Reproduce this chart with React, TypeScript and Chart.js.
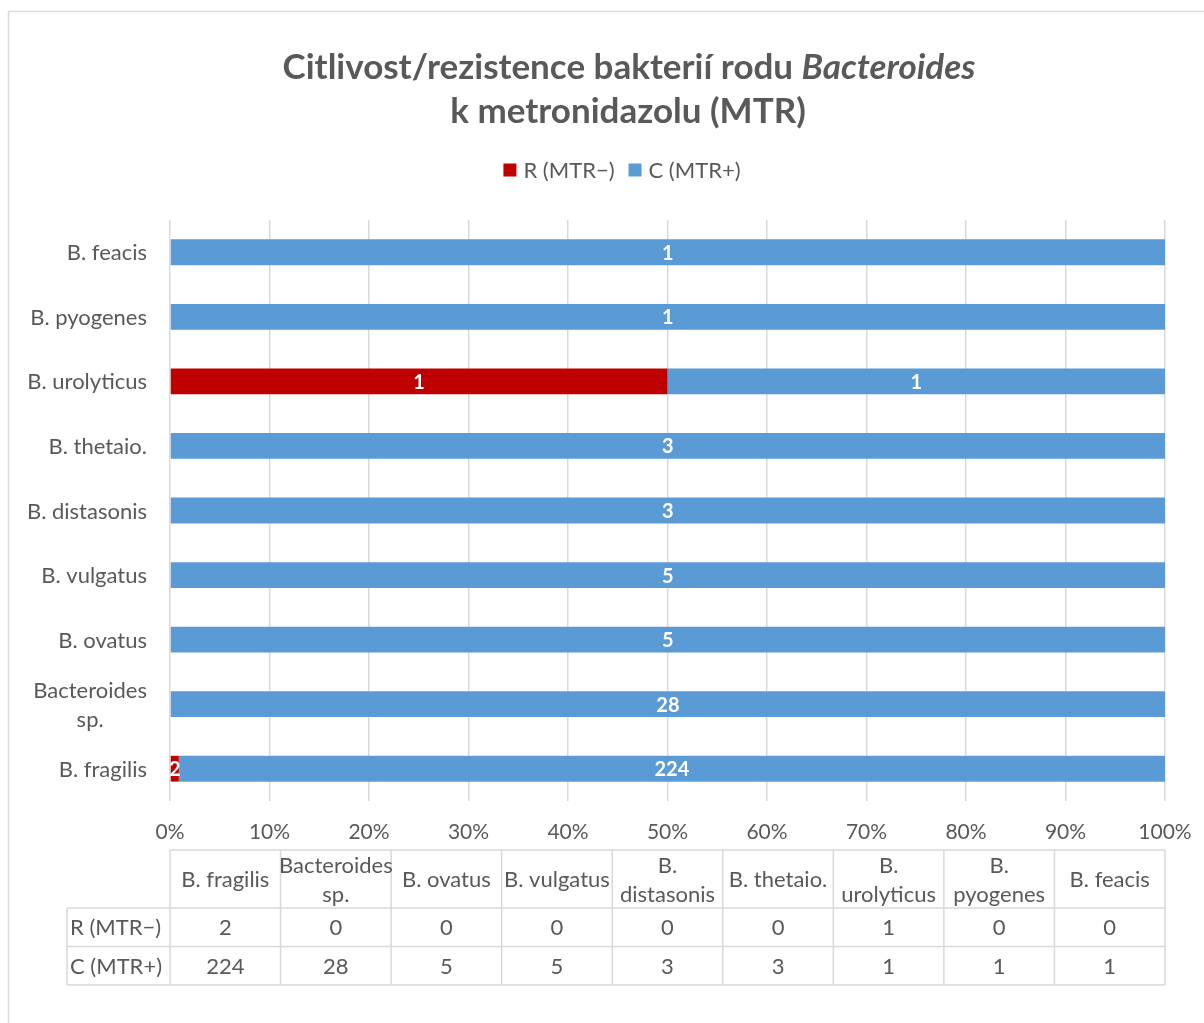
import React, { useEffect, useRef } from "react";
import { Chart, registerables } from "chart.js";

Chart.register(...registerables);

// ---------- data ----------
const categories = [
  "B. fragilis",
  "Bacteroides sp.",
  "B. ovatus",
  "B. vulgatus",
  "B. distasonis",
  "B. thetaio.",
  "B. urolyticus",
  "B. pyogenes",
  "B. feacis",
];
const axisLabelLines = [
  ["B. fragilis"],
  ["Bacteroides", "sp."],
  ["B. ovatus"],
  ["B. vulgatus"],
  ["B. distasonis"],
  ["B. thetaio."],
  ["B. urolyticus"],
  ["B. pyogenes"],
  ["B. feacis"],
];
const tableHeaderLines = [
  ["B. fragilis"],
  ["Bacteroides", "sp."],
  ["B. ovatus"],
  ["B. vulgatus"],
  ["B.", "distasonis"],
  ["B. thetaio."],
  ["B.", "urolyticus"],
  ["B.", "pyogenes"],
  ["B. feacis"],
];
const seriesNames = ["R (MTR−)", "C (MTR+)"];
const resistant = [2, 0, 0, 0, 0, 0, 1, 0, 0];
const susceptible = [224, 28, 5, 5, 3, 3, 1, 1, 1];
const seriesColors = ["#C00000", "#5B9BD5"];
const titleLine1 = "Citlivost/rezistence bakterií rodu ";
const titleItalic = "Bacteroides";
const titleLine2 = "k metronidazolu (MTR)";

const FONT = "Lato, 'Open Sans', sans-serif";
const TEXT = "#595959";
const GRID = "#D9D9D9";
const LABEL_SIZE = 22;
const TITLE_SIZE = 35;

const counts = [resistant, susceptible];
const totals = categories.map((_, i) => resistant[i] + susceptible[i]);
const pct = (arr: number[]) => arr.map((v, i) => (totals[i] ? (v / totals[i]) * 100 : 0));

const overlayPlugin = {
  id: "overlay",
  beforeDraw(chart: any) {
    const ctx = chart.ctx;
    ctx.save();
    ctx.fillStyle = "#FFFFFF";
    ctx.fillRect(0, 0, chart.width, chart.height);
    ctx.strokeStyle = GRID;
    ctx.lineWidth = 1.5;
    ctx.strokeRect(8.5, 11.5, chart.width + 20, chart.height + 20);
    ctx.restore();
  },
  afterDatasetsDraw(chart: any) {
    const ctx = chart.ctx;
    ctx.save();
    ctx.font = `bold 20px ${FONT}`;
    ctx.fillStyle = "#FFFFFF";
    ctx.textAlign = "center";
    ctx.textBaseline = "middle";
    counts.forEach((arr, di) => {
      const meta = chart.getDatasetMeta(di);
      meta.data.forEach((el: any, i: number) => {
        const v = arr[i];
        if (!v) return;
        const p = el.getCenterPoint();
        ctx.fillText(String(v), p.x, p.y + 1);
      });
    });
    ctx.restore();
  },
  afterDraw(chart: any) {
    const ctx = chart.ctx;
    const xs = chart.scales.x;
    const ys = chart.scales.y;
    ctx.save();

    // Title
    const cx = 629;
    ctx.fillStyle = TEXT;
    ctx.textBaseline = "middle";
    ctx.font = `bold ${TITLE_SIZE}px ${FONT}`;
    const w1 = ctx.measureText(titleLine1).width;
    ctx.font = `italic bold ${TITLE_SIZE}px ${FONT}`;
    const w2 = ctx.measureText(titleItalic).width;
    const sx = cx - (w1 + w2) / 2;
    ctx.textAlign = "left";
    ctx.font = `bold ${TITLE_SIZE}px ${FONT}`;
    ctx.fillText(titleLine1, sx, 68);
    ctx.font = `italic bold ${TITLE_SIZE}px ${FONT}`;
    ctx.fillText(titleItalic, sx + w1, 68);
    ctx.font = `bold ${TITLE_SIZE}px ${FONT}`;
    ctx.textAlign = "center";
    ctx.fillText(titleLine2, 628, 112);

    // Legend
    ctx.font = `${LABEL_SIZE}px ${FONT}`;
    ctx.textAlign = "left";
    const box = 13;
    const gapBox = 7;
    const gapItem = 14;
    const widths = seriesNames.map((n) => box + gapBox + ctx.measureText(n).width);
    const total = widths.reduce((a, b) => a + b, 0) + gapItem;
    let lx = 622 - total / 2;
    seriesNames.forEach((n, i) => {
      ctx.fillStyle = seriesColors[i];
      ctx.fillRect(lx, 170 - box / 2, box, box);
      ctx.fillStyle = TEXT;
      ctx.fillText(n, lx + box + gapBox, 171);
      lx += widths[i] + gapItem;
    });

    // Y axis labels
    ctx.font = `${LABEL_SIZE}px ${FONT}`;
    ctx.fillStyle = TEXT;
    ctx.textAlign = "center";
    const lh = 29;
    axisLabelLines.forEach((lines, i) => {
      const y = ys.getPixelForValue(i);
      const bw = Math.max(...lines.map((l) => ctx.measureText(l).width));
      const right = xs.left - 23;
      const mid = right - bw / 2;
      lines.forEach((l, k) => {
        ctx.fillText(l, mid, y + (k - (lines.length - 1) / 2) * lh + 1);
      });
    });

    // Data table
    const n = categories.length;
    const left = xs.left;
    const right = xs.right;
    const cw = (right - left) / n;
    const top = 850;
    const hRow = 58;
    const r1 = top + hRow;
    const r2 = r1 + 38.5;
    const r3 = r2 + 38.5;
    const tLeft = 67;
    ctx.strokeStyle = GRID;
    ctx.lineWidth = 1.5;
    ctx.beginPath();
    ctx.moveTo(left, top);
    ctx.lineTo(right, top);
    [r1, r2, r3].forEach((y) => {
      ctx.moveTo(tLeft, y);
      ctx.lineTo(right, y);
    });
    for (let k = 0; k <= n; k++) {
      const x = left + k * cw;
      ctx.moveTo(x, top);
      ctx.lineTo(x, r3);
    }
    ctx.moveTo(tLeft, r1);
    ctx.lineTo(tLeft, r3);
    ctx.stroke();

    ctx.fillStyle = TEXT;
    ctx.font = `${LABEL_SIZE}px ${FONT}`;
    ctx.textAlign = "center";
    ctx.textBaseline = "middle";
    tableHeaderLines.forEach((lines, i) => {
      const x = left + (i + 0.5) * cw;
      const ym = (top + r1) / 2;
      lines.forEach((l, k) => {
        ctx.fillText(l, x, ym + (k - (lines.length - 1) / 2) * lh + 1);
      });
    });
    [r1, r2].forEach((ry, di) => {
      const ym = ry + 38.5 / 2 + 1;
      ctx.textAlign = "left";
      ctx.fillText(seriesNames[di], tLeft + 3, ym);
      ctx.textAlign = "center";
      counts[di].forEach((v, i) => {
        ctx.fillText(String(v), left + (i + 0.5) * cw, ym);
      });
    });

    ctx.restore();
  },
};

export default function App() {
  const ref = useRef<HTMLCanvasElement | null>(null);
  useEffect(() => {
    if (!ref.current) return;
    const chart = new Chart(ref.current, {
      type: "bar",
      data: {
        labels: categories,
        datasets: [
          {
            label: seriesNames[0],
            data: pct(resistant),
            backgroundColor: seriesColors[0],
            borderWidth: 0,
            categoryPercentage: 0.8,
            barPercentage: 0.5,
          },
          {
            label: seriesNames[1],
            data: pct(susceptible),
            backgroundColor: seriesColors[1],
            borderWidth: 0,
            categoryPercentage: 0.8,
            barPercentage: 0.5,
          },
        ],
      },
      options: {
        indexAxis: "y",
        responsive: false,
        animation: false,
        layout: { padding: { top: 220, right: 39, left: 0, bottom: 0 } },
        plugins: {
          legend: { display: false },
          title: { display: false },
          tooltip: { enabled: false },
        },
        scales: {
          x: {
            stacked: true,
            min: 0,
            max: 100,
            ticks: {
              stepSize: 10,
              callback: (v: any) => `${v}%`,
              color: TEXT,
              font: { family: FONT, size: 21 },
              padding: 19,
              maxRotation: 0,
            },
            grid: { color: GRID, lineWidth: 1.5, drawTicks: false },
            border: { display: false },
            afterFit: (s: any) => {
              s.height = 222;
              s.paddingRight = 0;
              s.paddingLeft = 0;
            },
          },
          y: {
            stacked: true,
            reverse: true,
            ticks: { display: false },
            grid: { display: false },
            border: { display: false },
            afterFit: (s: any) => {
              s.width = 170;
            },
          },
        },
      },
      plugins: [overlayPlugin],
    } as any);
    return () => chart.destroy();
  }, []);
  return (
    <div style={{ position: "absolute", left: 0, top: 0, width: 1204, height: 1023 }}>
      <canvas ref={ref} width={1204} height={1023} style={{ width: 1204, height: 1023, display: "block" }} />
    </div>
  );
}
